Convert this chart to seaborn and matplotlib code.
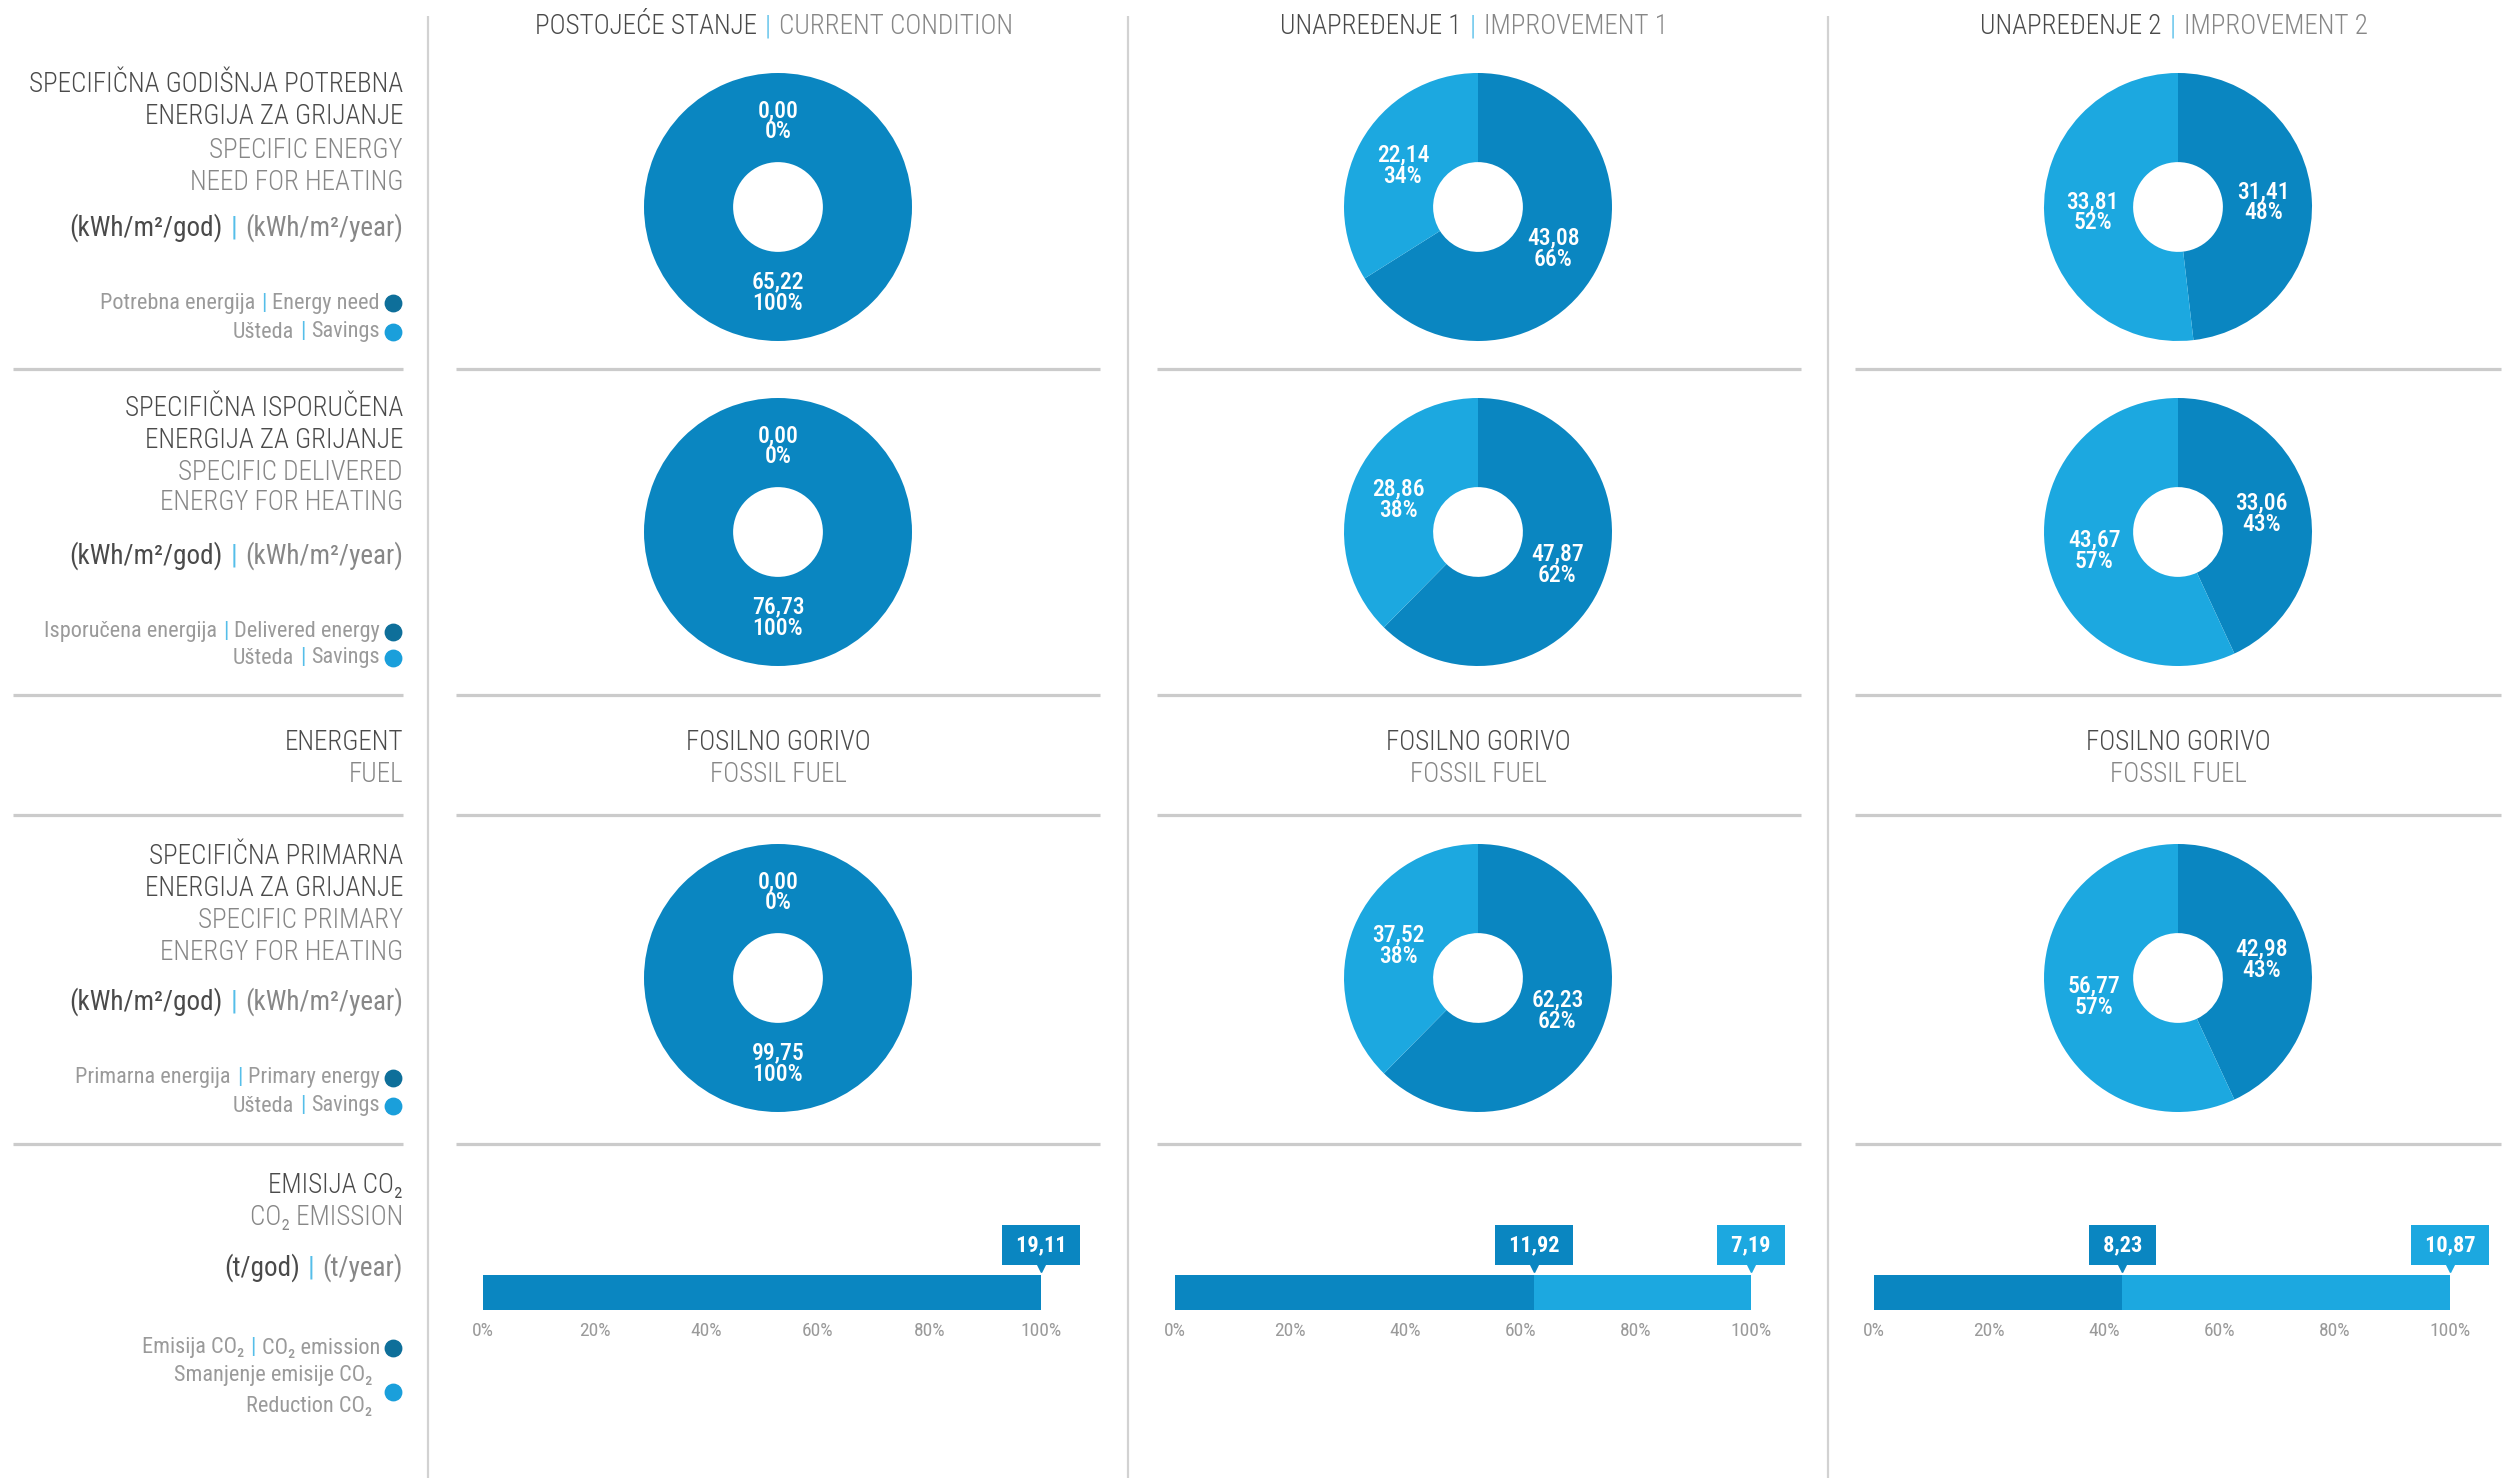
import numpy as np
import pandas as pd
import matplotlib
matplotlib.use('Agg')
import matplotlib.pyplot as plt
import matplotlib.font_manager as fm
from matplotlib.transforms import offset_copy
import seaborn as sns

# --- data ---
scenarios = ['POSTOJEĆE STANJE', 'UNAPREĐENJE 1', 'UNAPREĐENJE 2']
scenarios_en = ['CURRENT CONDITION', 'IMPROVEMENT 1', 'IMPROVEMENT 2']
need_energy = [65.22, 43.08, 31.41]
need_savings = [0.00, 22.14, 33.81]
delivered_energy = [76.73, 47.87, 33.06]
delivered_savings = [0.00, 28.86, 43.67]
primary_energy = [99.75, 62.23, 42.98]
primary_savings = [0.00, 37.52, 56.77]
fuel = ['FOSILNO GORIVO', 'FOSILNO GORIVO', 'FOSILNO GORIVO']
fuel_en = ['FOSSIL FUEL', 'FOSSIL FUEL', 'FOSSIL FUEL']
co2_emission = [19.11, 11.92, 8.23]
co2_reduction = [0.00, 7.19, 10.87]
bar_ticks = [0, 20, 40, 60, 80, 100]

DARK = '#0A86C1'
LIGHT = '#1CA8E0'
DOT_DARK = '#0E6F9A'
DOT_LIGHT = '#1A9FDB'
SEP = '#55BEE9'
TXT1 = '#4a4a4a'
TXT2 = '#878787'
TXT3 = '#9a9a9a'

sns.set_theme(style='white')
names = {f.name for f in fm.fontManager.ttflist}
narrow = [n for n in ['Roboto Condensed', 'Liberation Sans Narrow', 'Open Sans Condensed'] if n in names]
FONT = [narrow[0], 'DejaVu Sans'] if narrow else ['DejaVu Sans']
K = 1.0 if narrow else 0.8
plt.rcParams['font.family'] = FONT

W, H = 2506, 1478
fig = plt.figure(figsize=(W / 100, H / 100), dpi=100)
fig.patch.set_facecolor('white')

# full-figure overlay in pixel coordinates for texts and rules
ov = fig.add_axes([0, 0, 1, 1])
ov.set_xlim(0, W)
ov.set_ylim(H, 0)
ov.axis('off')
rend = fig.canvas.get_renderer()

TS = 19.5   # heading size
LS = 16     # legend size


def fmt(v):
    return f'{v:.2f}'.replace('.', ',')


def rich(x, y, parts, size, ha='right', gap=8, weight='normal'):
    arts = [ov.text(0, y, s, fontsize=size * K, color=c, va='center', ha='left',
                    family=FONT, weight=weight) for s, c in parts]
    ws = [a.get_window_extent(rend).width for a in arts]
    tot = sum(ws) + gap * (len(ws) - 1)
    x0 = x - tot if ha == 'right' else x - tot / 2
    for a, w in zip(arts, ws):
        a.set_x(x0)
        x0 += w + gap


def label(x, y, s, size, color, ha='right', weight='light'):
    ov.text(x, y, s, fontsize=size * K, color=color, ha=ha, va='center', weight=weight)


# separators
for x in [428, 1128, 1828]:
    ov.plot([x, x], [16, H], color='#d2d2d2', lw=1.6, solid_capstyle='butt')
for y in [369, 695, 815, 1144]:
    for a, b in [(13, 403), (456, 1100), (1157, 1801), (1855, 2501)]:
        ov.plot([a, b], [y, y], color='#cbcbcb', lw=2.3, solid_capstyle='butt')

col_cx = [778, 1478, 2178]

# column titles
for cx, s1, s2 in zip(col_cx, scenarios, scenarios_en):
    rich(cx - 4, 27, [(s1, TXT1), ('|', SEP), (s2, TXT2)], TS, ha='center', weight='light')

# left labels
RX = 403
blocks = [
    (['SPECIFIČNA GODIŠNJA POTREBNA', 'ENERGIJA ZA GRIJANJE', 'SPECIFIC ENERGY', 'NEED FOR HEATING'],
     [85, 117, 150, 182], 228, ('(kWh/m²/god)', '(kWh/m²/year)'),
     [('Potrebna energija', 'Energy need'), ('Ušteda', 'Savings')], [303, 332]),
    (['SPECIFIČNA ISPORUČENA', 'ENERGIJA ZA GRIJANJE', 'SPECIFIC DELIVERED', 'ENERGY FOR HEATING'],
     [409, 440, 472, 503], 556, ('(kWh/m²/god)', '(kWh/m²/year)'),
     [('Isporučena energija', 'Delivered energy'), ('Ušteda', 'Savings')], [632, 658]),
    (['SPECIFIČNA PRIMARNA', 'ENERGIJA ZA GRIJANJE', 'SPECIFIC PRIMARY', 'ENERGY FOR HEATING'],
     [857, 889, 921, 953], 1002, ('(kWh/m²/god)', '(kWh/m²/year)'),
     [('Primarna energija', 'Primary energy'), ('Ušteda', 'Savings')], [1078, 1106]),
]
for lines, ys, uy, units, legs, lys in blocks:
    for i, (s, y) in enumerate(zip(lines, ys)):
        label(RX, y, s, TS, TXT1 if i < 2 else TXT2)
    rich(RX, uy, [(units[0], TXT1), ('|', SEP), (units[1], TXT2)], TS)
    for (a, b), y, dc in zip(legs, lys, [DOT_DARK, DOT_LIGHT]):
        rich(380, y, [(a, TXT3), ('|', SEP), (b, TXT3)], LS, gap=6)
        ov.scatter([393], [y], s=140, color=dc, zorder=5)

label(RX, 742, 'ENERGENT', TS, TXT1)
label(RX, 775, 'FUEL', TS, TXT2)
label(RX, 1186, 'EMISIJA CO₂', TS, TXT1)
label(RX, 1218, 'CO₂ EMISSION', TS, TXT2)
rich(RX, 1268, [('(t/god)', TXT1), ('|', SEP), ('(t/year)', TXT2)], TS)
rich(380, 1348, [('Emisija CO₂', TXT3), ('|', SEP), ('CO₂ emission', TXT3)], LS, gap=6)
ov.scatter([393], [1348], s=140, color=DOT_DARK, zorder=5)
label(372, 1375, 'Smanjenje emisije CO₂', LS, TXT3, weight='normal')
label(372, 1406, 'Reduction CO₂', LS, TXT3, weight='normal')
ov.scatter([393], [1392], s=140, color=DOT_LIGHT, zorder=5)

# fuel row
for cx, a, b in zip(col_cx, fuel, fuel_en):
    label(cx, 742, a, TS, TXT1, ha='center')
    label(cx, 775, b, TS, TXT2, ha='center')

# donuts
R = 134
donut_rows = [(need_energy, need_savings, 207), (delivered_energy, delivered_savings, 532),
              (primary_energy, primary_savings, 978)]
for vals, savs, cy in donut_rows:
    for cx, v, s in zip(col_cx, vals, savs):
        ax = fig.add_axes([(cx - R) / W, 1 - (cy + R) / H, 2 * R / W, 2 * R / H])
        ax.pie([v, s], colors=[DARK, LIGHT], startangle=90, counterclock=False, radius=1,
               wedgeprops=dict(width=0.665, linewidth=0))
        ax.set_xlim(-1, 1)
        ax.set_ylim(-1, 1)
        ax.set_aspect('equal')
        ax.axis('off')
        tot = v + s
        cum = 0
        for val in [v, s]:
            ang = np.deg2rad(90 - 360 * (cum + val / 2) / tot)
            cum += val
            ax.text(0.64 * np.cos(ang), 0.64 * np.sin(ang),
                    f'{fmt(val)}\n{round(val / tot * 100)}%', color='white',
                    fontsize=17 * K, weight='medium', ha='center', va='center', linespacing=0.9)

# CO2 bars
bar_x = [(483, 1041), (1175, 1751), (1874, 2450)]
for (x0, x1), e, r in zip(bar_x, co2_emission, co2_reduction):
    ax = fig.add_axes([x0 / W, 1 - 1310 / H, (x1 - x0) / W, 35 / H])
    tot = e + r
    pe = e / tot * 100
    df = pd.DataFrame({'share': [100.0], 'k': ['co2']})
    sns.barplot(data=df, x='share', y='k', orient='h', color=LIGHT, saturation=1,
                width=1, linewidth=0, ax=ax)
    df2 = pd.DataFrame({'share': [pe], 'k': ['co2']})
    sns.barplot(data=df2, x='share', y='k', orient='h', color=DARK, saturation=1,
                width=1, linewidth=0, ax=ax)
    ax.set_xlim(0, 100)
    ax.set_ylim(0.5, -0.5)
    ax.set(xlabel='', ylabel='')
    ax.set_yticks([])
    ax.set_xticks(bar_ticks)
    ax.set_xticklabels([f'{t}%' for t in bar_ticks])
    ax.tick_params(axis='x', length=0, pad=9, labelsize=14 * K, labelcolor='#9a9a9a')
    for sp in ax.spines.values():
        sp.set_visible(False)
    marks = [(pe, e, DARK)]
    if r > 0:
        marks.append((100.0, r, LIGHT))
    tr = offset_copy(ax.transData, fig=fig, x=0, y=9, units='dots')
    for p, val, c in marks:
        ax.annotate(f' {fmt(val)} ', xy=(p, -0.5), xytext=(0, 30), textcoords='offset pixels',
                    ha='center', va='center', color='white', fontsize=16 * K, weight='bold',
                    bbox=dict(boxstyle='square,pad=0.4', fc=c, ec='none'), annotation_clip=False)
        ax.plot([p], [-0.5], marker='v', ms=8, color=c, transform=tr, clip_on=False)

fig.savefig('out.png', dpi=100, facecolor='white')
